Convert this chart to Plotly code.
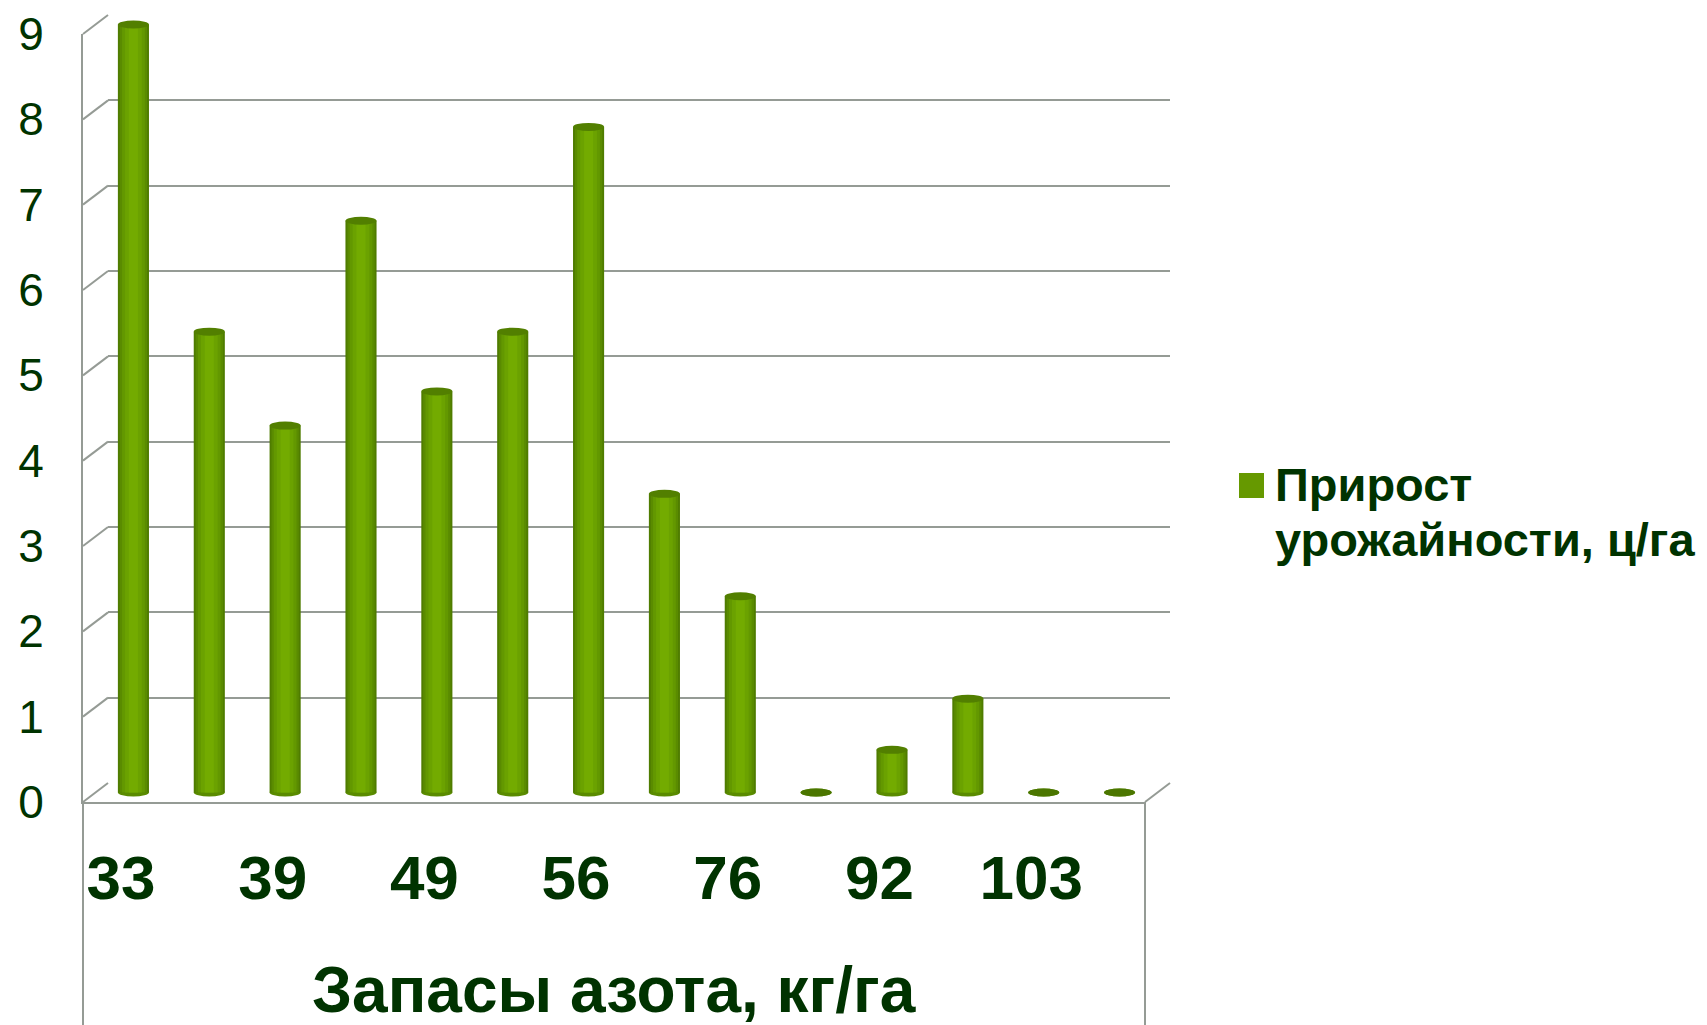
import plotly.graph_objects as go

# page is rendered with the default 8px body margin -> compensate
OFF = 8
W, H = 1707 - OFF, 1025 - OFF

# ---- data ----
x_tick_labels = ["33", "39", "49", "56", "76", "92", "103"]
growth = [9.0, 5.4, 4.3, 6.7, 4.7, 5.4, 7.8, 3.5, 2.3, 0.0, 0.5, 1.1, 0.0, 0.0]
y_ticks = [0, 1, 2, 3, 4, 5, 6, 7, 8, 9]
series_name = "Прирост<br>урожайности, ц/га"
x_title = "Запасы азота, кг/га"

positions = list(range(len(growth)))
label_positions = positions[::2]

# ---- geometry (pixels in the 1707x1025 window) ----
FL, FR, FT, FB = 83, 1145, 34, 802      # front plane
DX, DY = 25, 19                          # depth offset
BL, BR, BT, BB = FL + DX, FR + DX, FT - DY, FB - DY   # back wall
ML, MR, MT, MB = FL + DX / 2, FR + DX / 2, FT - DY / 2, FB - DY / 2  # mid plane (bars)
YMAX = 9
scale = (FB - FT) / YMAX
PAD = 0.1


def fx(p):
    return (p - OFF) / W


def fy(p):
    return 1 - (p - OFF) / H


TEXT = "#003300"
GRID = "#959b95"
FONT = "Liberation Sans, Arial, sans-serif"

fig = go.Figure()

# anchor traces so the wall and the front-axis subplots are drawn
fig.add_trace(go.Scatter(x=[0.5], y=[0], xaxis="x", yaxis="y", mode="markers",
                         marker=dict(opacity=0), hoverinfo="skip", showlegend=False))

shades = [(0.41, "#4f7c00"), (0.36, "#5a8b00"), (0.30, "#639800"),
          (0.22, "#6ba200"), (0.12, "#73ab00")]
for w, c in shades:
    fig.add_trace(go.Bar(x=positions, y=growth, xaxis="x2", yaxis="y2", width=w,
                         marker=dict(color=c, line=dict(width=0)),
                         showlegend=False, hoverinfo="skip"))

fig.add_trace(go.Scatter(x=[0], y=[0], xaxis="x3", yaxis="y3", mode="markers",
                         marker=dict(opacity=0), hoverinfo="skip", showlegend=False))

shapes = []
half = shades[0][0] / 2
for p, v in zip(positions, growth):
    shapes.append(dict(type="circle", xref="x2", yref="y2", ysizemode="pixel", yanchor=0,
                       x0=p - half, x1=p + half, y0=-4, y1=4, layer="below",
                       fillcolor="#5a8b00", line=dict(width=0)))
    shapes.append(dict(type="circle", xref="x2", yref="y2", ysizemode="pixel", yanchor=v,
                       x0=p - half, x1=p + half, y0=-4, y1=4,
                       fillcolor="#527f00" if v > 0 else "#4b7600", line=dict(width=0)))

# 3D frame lines
for v in y_ticks:
    shapes.append(dict(type="line", xref="paper", yref="paper",
                       x0=fx(FL), y0=fy(FB - v * scale), x1=fx(BL), y1=fy(BB - v * scale),
                       line=dict(color=GRID, width=2)))
shapes.append(dict(type="line", xref="paper", yref="paper",
                   x0=fx(FR), y0=fy(FB), x1=fx(BR), y1=fy(BB), line=dict(color=GRID, width=2)))
for xx in (FL, FR):
    shapes.append(dict(type="line", xref="paper", yref="paper",
                       x0=fx(xx), y0=fy(FB), x1=fx(xx), y1=0, line=dict(color=GRID, width=2)))

# legend square
shapes.append(dict(type="rect", xref="paper", yref="paper",
                   x0=fx(1239), x1=fx(1264), y0=fy(498), y1=fy(473),
                   fillcolor="#669900", line=dict(width=0)))

annotations = []
for k, line in enumerate(series_name.split("<br>")):
    annotations.append(dict(text="<b>" + line + "</b>", xref="paper", yref="paper",
                            x=fx(1273), y=fy(505 + 55 * k), xanchor="left", yanchor="bottom",
                            yshift=-8, align="left", showarrow=False,
                            font=dict(family=FONT, size=47, color=TEXT)))
annotations.append(dict(text="<b>" + x_title + "</b>", xref="paper", yref="paper",
                        x=fx((FL + FR) / 2), y=fy(990), xanchor="center", yanchor="middle",
                        showarrow=False, font=dict(family=FONT, size=64, color=TEXT)))

fig.update_layout(
    width=W, height=H, margin=dict(l=0, r=0, t=0, b=0, autoexpand=False),
    paper_bgcolor="white", plot_bgcolor="rgba(0,0,0,0)",
    barmode="overlay", showlegend=False,
    xaxis=dict(domain=[fx(BL), fx(BR)], range=[0, 1], showgrid=False, zeroline=False,
               showticklabels=False, showline=False, ticks="", anchor="y", automargin=False),
    yaxis=dict(domain=[fy(BB), fy(BT)], range=[-0.001, YMAX + 0.001], dtick=1, tick0=0,
               showgrid=True, gridcolor=GRID, gridwidth=2, zeroline=False,
               showticklabels=False, showline=False, ticks="", anchor="x", automargin=False),
    xaxis2=dict(domain=[fx(ML), fx(MR)], range=[-0.5, len(growth) - 0.5], visible=False,
                anchor="y2", automargin=False),
    yaxis2=dict(domain=[fy(MB + PAD * scale), fy(MT - PAD * scale)],
                range=[-PAD, YMAX + PAD], visible=False, anchor="x2", automargin=False),
    xaxis3=dict(domain=[fx(FL), fx(FR)], range=[-0.5, len(growth) - 0.5], anchor="y3",
                tickmode="array", tickvals=label_positions, ticktext=x_tick_labels,
                showline=True, linecolor=GRID, linewidth=2, showgrid=False, zeroline=False,
                ticks="outside", ticklen=21, tickcolor="rgba(0,0,0,0)", automargin=False,
                tickfont=dict(family=FONT, size=62, color=TEXT, weight="bold")),
    yaxis3=dict(domain=[fy(FB), fy(FT)], range=[0, YMAX], anchor="x3",
                tickmode="array", tickvals=y_ticks,
                showline=True, linecolor=GRID, linewidth=2, showgrid=False, zeroline=False,
                ticks="outside", ticklen=28, tickcolor="rgba(0,0,0,0)", automargin=False,
                tickfont=dict(family=FONT, size=46, color=TEXT)),
    shapes=shapes, annotations=annotations,
)

fig.write_html("out.html")
